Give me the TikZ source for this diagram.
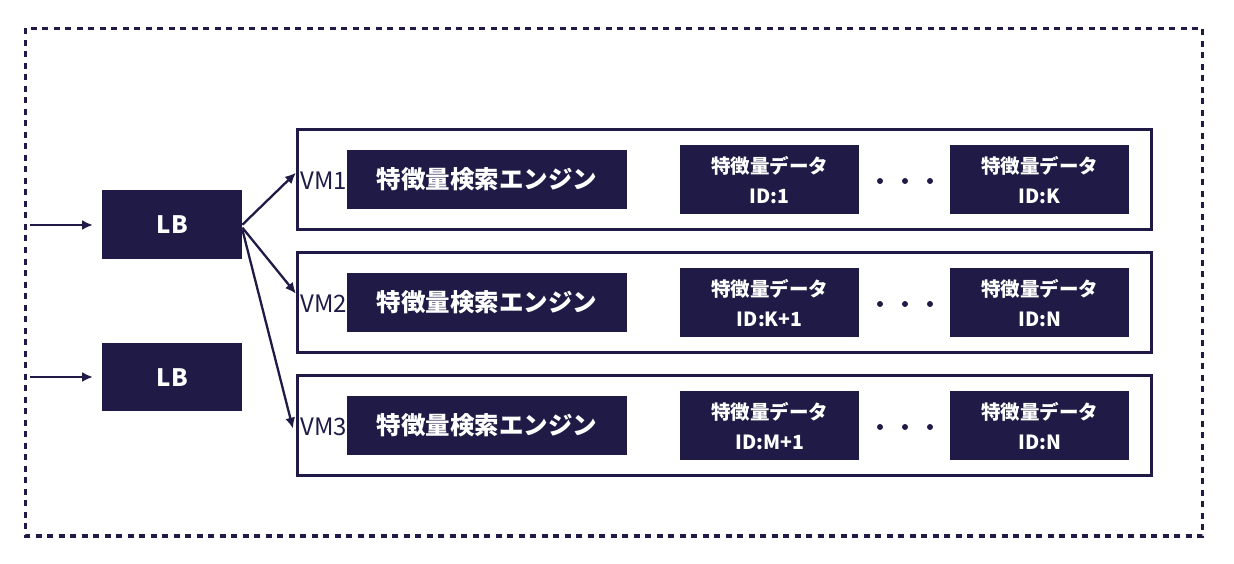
\documentclass[tikz,border=0pt]{standalone}
\usepackage{fontspec}
\setmainfont{Noto Sans CJK JP}
\usetikzlibrary{arrows.meta}
\definecolor{navy}{HTML}{1F1B46}

\begin{document}
\begin{tikzpicture}[x=1pt, y=-1pt,
      box/.style={fill=navy, text=white, inner sep=0pt, anchor=north west},
      vmbox/.style={draw=navy, line width=3.4pt, inner sep=0pt, anchor=north west,
        minimum width=854, minimum height=100},
      arr/.style={navy, line width=2.3pt, -{Latex[length=11pt, width=10pt]}}
      ]
      \useasboundingbox (0,0) rectangle (1234,564);
      \draw[navy, line width=3.2pt, dash pattern=on 6pt off 5.5pt] (25.5,28.5) rectangle (1202.5,536);

      \node[box, minimum width=140, minimum height=69, font=\fontsize{24}{28}\selectfont\bfseries] (lb1) at (102,190) {LB};
      \node[box, minimum width=140, minimum height=68, font=\fontsize{24}{28}\selectfont\bfseries] (lb2) at (102,343) {LB};
      \coordinate (in1) at (30,225);
      \coordinate (in2) at (30,377);
      \draw[arr, shorten >=9pt] (in1) -- (in1 -| lb1.west);
      \draw[arr, shorten >=9pt] (in2) -- (in2 -| lb2.west);

      \foreach \i/\a/\b in {1/1/K, 2/K+1/N, 3/M+1/N} {
        \pgfmathsetmacro{\y}{128+123*(\i-1)}
        \node[vmbox] (vm\i) at (296,\y) {};
        \node[anchor=west, text=navy, inner sep=0pt, font=\fontsize{24}{28}\selectfont] (vmlabel\i) at (300,\y+53) {VM\i};
        \node[box, minimum width=280, minimum height=59, font=\fontsize{24.5}{28}\selectfont\bfseries] (eng\i) at (347,\y+22) {特徴量検索エンジン};
        \node[box, minimum width=179, minimum height=69, align=center, font=\fontsize{19.5}{30}\selectfont\bfseries] (datafirst\i) at (680,\y+17) {特徴量データ\\ID:\a};
        \node[box, minimum width=179, minimum height=69, align=center, font=\fontsize{19.5}{30}\selectfont\bfseries] (datalast\i) at (950,\y+17) {特徴量データ\\ID:\b};
        \foreach \x in {880,905,930}
          \fill[navy] (\x,\y+53) circle (3pt);
      }

      \draw[arr] (lb1.east) -- ([yshift=7pt]vm1.west);
      \draw[arr] ([yshift=-3pt]lb1.east) -- ([yshift=9pt]vm2.west);
      \draw[arr] ([yshift=-5pt]lb1.east) -- ([xshift=-3pt, yshift=-3pt]vm3.west);
\end{tikzpicture}
\end{document}
